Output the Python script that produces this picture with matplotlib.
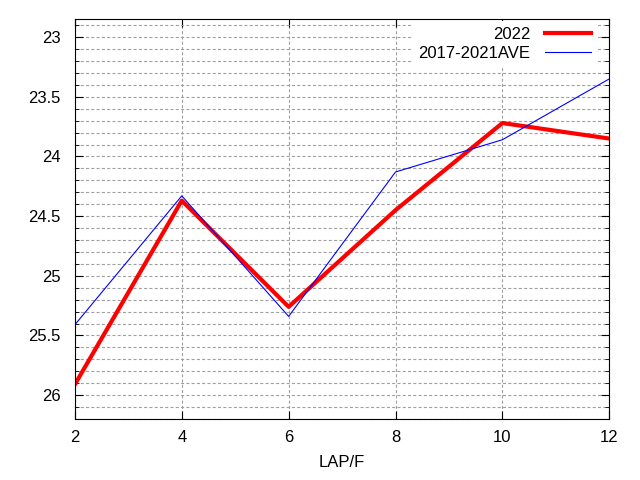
import matplotlib
matplotlib.use("Agg")
import matplotlib.pyplot as plt
from matplotlib.ticker import MultipleLocator, FuncFormatter

laps = [2, 4, 6, 8, 10, 12]
y2022 = [25.91, 24.37, 25.26, 24.45, 23.72, 23.85]
ave = [25.41, 24.33, 25.34, 24.13, 23.86, 23.35]

plt.rcParams['font.family'] = ['Liberation Sans', 'DejaVu Sans']
plt.rcParams['lines.scale_dashes'] = False

fig = plt.figure(figsize=(6.4, 4.8), dpi=100)
ax = fig.add_axes([0.117, 0.127, 0.835, 0.833])

ax.plot(laps, y2022, color='red', lw=3, label='2022')
ax.plot(laps, ave, color='blue', lw=0.8, label='2017-2021AVE')

ax.set_xlim(2, 12)
ax.set_ylim(26.2, 22.85)
ax.xaxis.set_major_locator(MultipleLocator(2))
ax.yaxis.set_major_locator(MultipleLocator(0.5))
ax.yaxis.set_minor_locator(MultipleLocator(0.1))
ax.yaxis.set_major_formatter(FuncFormatter(lambda v, p: f'{v:g}'))

grid_style = dict(color='#a0a0a0', linestyle=(0, (2.2, 1.6)), lw=0.8)
ax.grid(True, which='both', axis='y', **grid_style)
ax.grid(True, which='major', axis='x', **grid_style)
ax.tick_params(which='both', direction='in', top=True, right=True, labelsize=12)
ax.tick_params(axis='y', pad=10)
ax.tick_params(axis='x', pad=8)
ax.tick_params(which='major', length=6)
ax.tick_params(which='minor', length=3)

ax.set_xlabel('LAP/F', fontsize=12, labelpad=7)

leg = ax.legend(loc='upper right', bbox_to_anchor=(0.985, 1.005), markerfirst=False,
                frameon=True, fontsize=12, handlelength=2.8, handletextpad=0.85,
                borderaxespad=0.2, labelspacing=0.2)
leg.get_frame().set_edgecolor('none')
leg.get_frame().set_facecolor('white')
leg.get_frame().set_alpha(1)
for t in leg.get_texts():
    t.set_ha('right')

fig.savefig('out.png', dpi=100)
